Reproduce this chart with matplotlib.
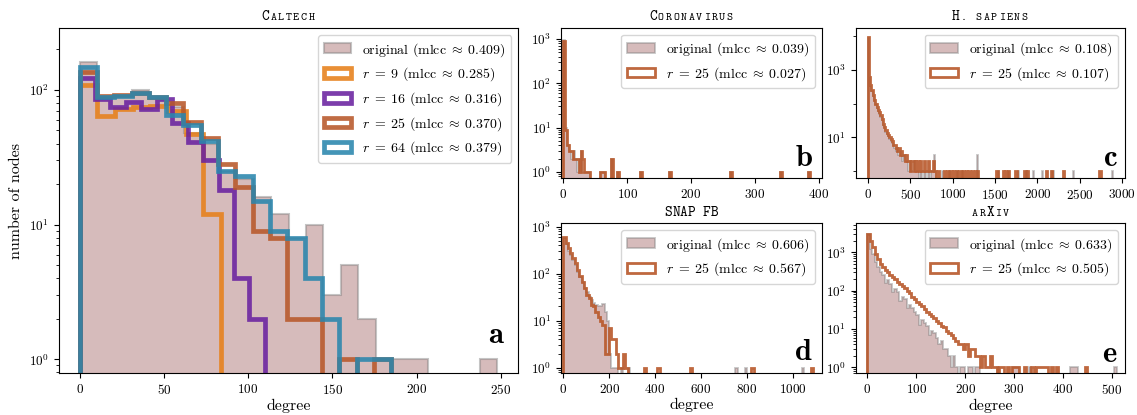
import numpy as np
import matplotlib
matplotlib.use('Agg')
import matplotlib.pyplot as plt
from matplotlib.colors import to_rgba
from matplotlib.text import Text
from matplotlib.offsetbox import DrawingArea, HPacker, AnchoredOffsetbox
from matplotlib.ticker import FixedLocator, MultipleLocator, NullFormatter

plt.rcParams.update({
    'font.family': 'serif',
    'font.serif': ['cmr10'],
    'mathtext.fontset': 'cm',
    'axes.formatter.use_mathtext': True,
    'axes.unicode_minus': False,
    'font.size': 10,
    'axes.labelsize': 11.5,
    'xtick.labelsize': 9.5,
    'ytick.labelsize': 9.5,
})

# ---- Caltech (panel a): counts per bin, each series binned on 0..max degree
cal_orig_max = 248
cal_orig = [162, 88, 90, 100, 85, 75, 48, 40, 25, 22, 16, 12, 8, 10, 3, 5, 2, 1, 1, 1, 0, 0, 0, 1]
cal_r9_max = 84
cal_r9 = [108, 64, 72, 75, 76, 70, 47, 12]
cal_r16_max = 110
cal_r16 = [122, 85, 75, 82, 72, 85, 57, 41, 30, 18, 4, 2]
cal_r25_max = 185
cal_r25 = [137, 90, 92, 95, 88, 80, 58, 44, 28, 19, 9, 8, 2, 2, 0, 1, 0, 1]
cal_r64_max = 185
cal_r64 = [148, 88, 90, 95, 88, 65, 55, 42, 25, 23, 15, 9, 8, 4, 2, 0, 1, 1]

# ---- Coronavirus (panel b): bin width 3, head counts + single high-degree nodes
cor_orig_head = [960, 10, 4, 3, 2, 3, 2, 1, 2, 3, 1, 1, 1, 1]
cor_orig_tail = [57, 62, 65, 75, 76, 85, 121, 165, 261, 341, 386]
cor_r25_head = [900, 9, 4, 3, 3, 2, 2, 2, 1, 3, 2, 1, 1, 1]
cor_r25_tail = [57, 60, 64, 75, 76, 85, 121, 165, 261, 341, 386]

# ---- H. sapiens (panel c): bin width 15
sap_orig_head = [9000, 600, 330, 240, 170, 125, 95, 75, 60, 50, 40, 32, 24, 20, 15, 13, 11, 9, 8, 7,
                 6, 5, 4, 5, 3, 4, 3, 2, 3, 2, 2, 2, 1, 2, 1, 1, 2, 1, 1, 1, 0, 1, 1, 0, 1, 1, 0, 1,
                 1, 0, 1, 1, 3, 1]
sap_orig_tail = [870, 960, 1060, 1120, 1290, 1290, 1300, 1540, 1660, 1770, 1860, 1950, 2060, 2180,
                 2420, 2890]
sap_r25_head = [9700, 630, 350, 250, 180, 130, 100, 80, 65, 55, 45, 35, 25, 20, 17, 14, 12, 10, 9, 8,
                6, 6, 5, 4, 5, 3, 4, 3, 3, 2, 3, 2, 2, 1, 2, 2, 1, 2, 1, 2, 1, 2, 1, 1, 2, 1, 1, 2,
                1, 1, 1, 2, 1, 1, 0, 1]
sap_r25_tail = [905, 935, 980, 1010, 1040, 1085, 1130, 1160, 1190, 1230, 1270, 1300, 1520, 1595,
                1625, 1650, 1750, 1850, 1880, 2100, 2170, 2300, 2730]

# ---- SNAP FB (panel d): bin width 10
fb_orig_head = [560, 420, 300, 250, 190, 150, 110, 85, 65, 50, 40, 32, 27, 24, 22, 20, 20, 23, 15, 10,
                2, 1, 1, 1, 0, 1, 0, 0, 1]
fb_orig_tail = [755, 798, 1045]
fb_r25_head = [590, 450, 345, 280, 210, 170, 120, 90, 67, 50, 35, 30, 21, 20, 15, 12, 10, 8, 2, 2,
               7, 4, 4, 2, 1, 1, 2, 1]
fb_r25_tail = [352, 412, 556, 822, 1088]

# ---- arXiv (panel e): bin width 5
arx_orig_head = [3000, 1200, 900, 550, 420, 300, 260, 160, 190, 150, 90, 110, 95, 55, 70, 60, 35, 42,
                 35, 28, 23, 13, 17, 14, 12, 7, 9, 8, 6, 4, 5, 3, 3, 2, 1, 2, 1, 0, 1, 1, 0, 1, 1, 0,
                 1, 1]
arx_orig_tail = [265, 295, 300, 305, 330, 415, 420, 425, 505]
arx_r25_head = [2950, 2000, 1400, 900, 650, 500, 420, 350, 300, 250, 230, 200, 170, 150, 135, 120, 100,
                85, 70, 60, 52, 45, 40, 33, 28, 25, 22, 19, 16, 14, 12, 11, 9, 8, 7, 6, 5, 4, 4, 3,
                4, 2, 3, 3, 2, 2, 1, 2, 1, 1, 2, 1, 1, 0, 1, 1, 0, 1, 0, 1, 1, 1]
arx_r25_tail = [320, 335, 345, 350, 355, 362, 368, 375, 385, 447]

mlcc_cal = {'orig': '0.409', 9: '0.285', 16: '0.316', 25: '0.370', 64: '0.379'}

C_ORIG_FACE = to_rgba('rosybrown', 0.6)
C_ORIG_EDGE = to_rgba('gray', 0.45)
C_R9 = '#e6801a'
C_R16 = '#6a22a0'
C_R25 = '#b8582a'
C_R64 = '#2a86ad'


def orig_label(m):
    return r'original (mlcc$\;\approx\;$%s)' % m


def r_label(r, m):
    return r'$r\;=\;%d$ (mlcc$\;\approx\;$%s)' % (r, m)


def hist_counts(ax, head, tail, edges, **kw):
    width = edges[1] - edges[0]
    centres = edges[:len(head)] + width / 2
    x = np.concatenate([centres, np.asarray(tail, dtype=float)])
    w = np.concatenate([np.asarray(head, dtype=float), np.ones(len(tail))])
    return ax.hist(x, bins=edges, weights=w, **kw)


def sc_title(ax, title, lift_px, size=10.5, small=8.2):
    # fake typewriter small caps: fixed cell width per character
    cell = 0.525 * size
    cells = []
    for ch in title:
        da = DrawingArea(cell, size, 0, 0)
        if ch != ' ':
            fs = size if ch.isupper() else small
            da.add_artist(Text(cell / 2, 0, ch.upper(), ha='center', va='baseline',
                               family='cmtt10', size=fs))
        cells.append(da)
    pack = HPacker(children=cells, align='bottom', pad=0, sep=0)
    h = ax.get_position().height * 415
    box = AnchoredOffsetbox('lower center', child=pack, pad=0, borderpad=0, frameon=False,
                            bbox_to_anchor=(0.5, 1 + lift_px / h), bbox_transform=ax.transAxes)
    ax.add_artist(box)


def panel_letter(ax, s, x, y):
    ax.text(x, y, s, transform=ax.transAxes, ha='right', va='baseline',
            family='cmb10', size=22)


fig = plt.figure(figsize=(11.37, 4.15), dpi=100)
W, H = 1137, 415


def rect(l, t, r, b):
    return [l / W, 1 - b / H, (r - l) / W, (b - t) / H]


ax_a = fig.add_axes(rect(58.7, 28.3, 518.3, 373.3))
ax_b = fig.add_axes(rect(561, 27.7, 821.7, 178))
ax_c = fig.add_axes(rect(855.7, 27.7, 1125, 178))
ax_d = fig.add_axes(rect(561, 223.3, 821.7, 373.3))
ax_e = fig.add_axes(rect(855.7, 223.3, 1125, 373.3))

# ---- panel a
ax_a.set_yscale('log')
hist_counts(ax_a, cal_orig, [], np.linspace(0, cal_orig_max, len(cal_orig) + 1),
            histtype='stepfilled', facecolor=C_ORIG_FACE, edgecolor=C_ORIG_EDGE, linewidth=1.5,
            label=orig_label(mlcc_cal['orig']))
for r, counts, mx, c in [(9, cal_r9, cal_r9_max, C_R9), (16, cal_r16, cal_r16_max, C_R16),
                         (25, cal_r25, cal_r25_max, C_R25), (64, cal_r64, cal_r64_max, C_R64)]:
    hist_counts(ax_a, counts, [], np.linspace(0, mx, len(counts) + 1),
                histtype='step', color=to_rgba(c, 0.88), linewidth=3.4,
                label=r_label(r, mlcc_cal[r]))
ax_a.set_xlim(-12.4, 260.4)
ax_a.set_ylim(0.787, 287)
ax_a.set_xlabel('degree', labelpad=1.5)
ax_a.set_ylabel('number of nodes')
ax_a.legend(loc='upper right', fontsize=10, edgecolor='0.8')
sc_title(ax_a, 'Caltech', 8)
panel_letter(ax_a, 'a', 0.967, 0.089)

# ---- panels b-e
small = [
    (ax_b, 'Coronavirus', 3, 391, cor_orig_head, cor_orig_tail, cor_r25_head, cor_r25_tail,
     '0.039', '0.027', (-3.7, 405), (0.73, 1800), 'b', (0.965, 0.082), False),
    (ax_c, 'H. sapiens', 15, 2910, sap_orig_head, sap_orig_tail, sap_r25_head, sap_r25_tail,
     '0.108', '0.107', (-141, 3031), (0.63, 17800), 'c', (0.973, 0.082), False),
    (ax_d, 'SNAP FB', 10, 1101, fb_orig_head, fb_orig_tail, fb_r25_head, fb_r25_tail,
     '0.606', '0.567', (-10, 1126), (0.76, 1170), 'd', (0.964, 0.089), True),
    (ax_e, 'arXiv', 5, 511, arx_orig_head, arx_orig_tail, arx_r25_head, arx_r25_tail,
     '0.633', '0.505', (-24, 527), (0.7, 5700), 'e', (0.967, 0.077), True),
]
for (ax, title, bw, top, oh, ot, rh, rt, m_o, m_r, xl, yl, letter, lpos, xlab) in small:
    edges = np.arange(0, top, bw)
    ax.set_yscale('log')
    hist_counts(ax, oh, ot, edges, histtype='stepfilled', facecolor=C_ORIG_FACE,
                edgecolor=C_ORIG_EDGE, linewidth=1.3, label=orig_label(m_o))
    hist_counts(ax, rh, rt, edges, histtype='step', color=to_rgba(C_R25, 0.9), linewidth=2.0,
                label=r_label(25, m_r))
    ax.set_xlim(*xl)
    ax.set_ylim(*yl)
    if xlab:
        ax.set_xlabel('degree', labelpad=1.5)
    ax.legend(loc='upper right', fontsize=10, edgecolor='0.8')
    sc_title(ax, title, 7.7)
    panel_letter(ax, letter, *lpos)

# H. sapiens: labels only on every other decade, x ticks every 500
ax_c.yaxis.set_major_locator(FixedLocator([1e1, 1e3]))
ax_c.yaxis.set_minor_locator(FixedLocator([1e0, 1e2, 1e4]))
ax_c.yaxis.set_minor_formatter(NullFormatter())
ax_c.xaxis.set_major_locator(MultipleLocator(500))

fig.savefig('out.png', dpi=100)
